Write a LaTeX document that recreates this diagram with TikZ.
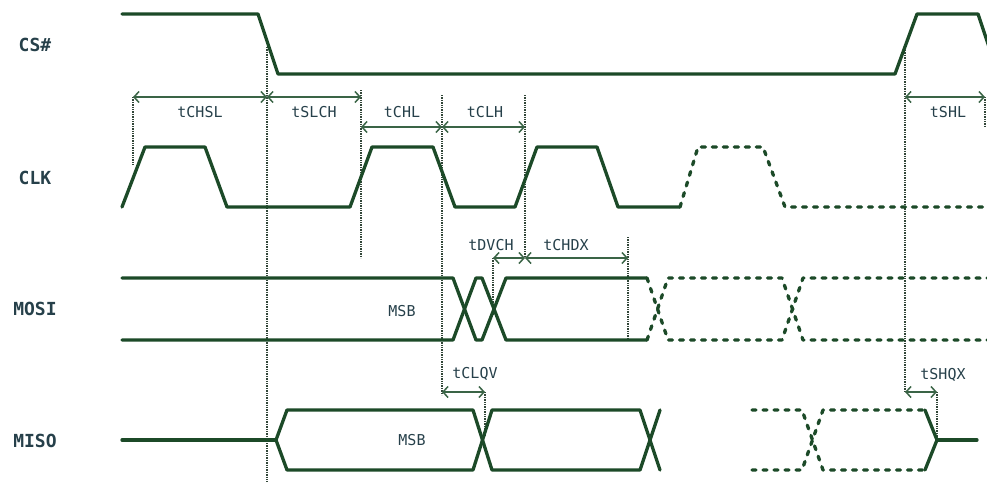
\documentclass[tikz,border=0pt]{standalone}
\usepackage{fontspec}
\setmonofont{DejaVu Sans Mono}
\usetikzlibrary{arrows.meta}
\definecolor{sigc}{RGB}{28,74,40}
\definecolor{dimc}{RGB}{58,100,70}
\definecolor{guidec}{RGB}{50,70,56}
\definecolor{txtc}{RGB}{38,64,74}
\begin{document}
\begin{tikzpicture}[x=1pt,y=-1pt,
 sig/.style={draw=sigc,line width=3.3pt,line join=round,line cap=round},
 dsig/.style={sig,dash pattern=on 4pt off 7pt},
 guide/.style={draw=guidec,line width=1.1pt,dash pattern=on 1.3pt off 1.1pt},
 dimline/.style={draw=dimc,line width=1.5pt,{Straight Barb[length=5pt,width=11pt,line width=1.5pt]}-{Straight Barb[length=5pt,width=11pt,line width=1.5pt]}},
 siglab/.style={font=\ttfamily\bfseries\fontsize{18}{18}\selectfont,text=txtc,inner sep=0pt},
 tlab/.style={font=\ttfamily\fontsize{15}{15}\selectfont,text=txtc,inner sep=0pt},
]
\useasboundingbox (0,0) rectangle (987,482);
\clip (0,0) rectangle (987,482);

% signal names
\node[siglab] (lcs) at (35,45) {CS\#};
\node[siglab] (lclk) at (35,178) {CLK};
\node[siglab] (lmosi) at (35,309) {MOSI};
\node[siglab] (lmiso) at (35,441) {MISO};

% guides (dotted)
\draw[guide] (133,97) -- (133,165);
\draw[guide] (267,47) -- (267,482);
\draw[guide] (361,90) -- (361,258);
\draw[guide] (442,95) -- (442,395);
\draw[guide] (525,95) -- (525,258);
\draw[guide] (493,258) -- (493,315);
\draw[guide] (628,237) -- (628,340);
\draw[guide] (905,50) -- (905,392);
\draw[guide] (985,97) -- (985,128);
\draw[guide] (485,392) -- (485,436);
\draw[guide] (937,392) -- (937,440);

% CS#
\draw[sig] (122,14) -- (258,14) -- (278,74) -- (895,74) -- (917,14) -- (978,14) -- (998,74);

% CLK
\draw[sig] (122,207) -- (145,147) -- (205,147) -- (227,207) -- (350,207) -- (372,147) -- (433,147) -- (455,207) -- (515,207) -- (537,147) -- (597,147) -- (618,207) -- (680,207);
\draw[dsig] (680,207) -- (698,147) -- (763,147) -- (785,207) -- (992,207);

% MOSI
\draw[sig] (122,278) -- (453,278) -- (476,340) -- (482,340) -- (506,278) -- (647,278);
\draw[sig] (122,340) -- (453,340) -- (476,278) -- (482,278) -- (506,340) -- (647,340);
\draw[dsig] (647,278) -- (668,340) -- (782,340) -- (803,278) -- (992,278);
\draw[dsig] (647,340) -- (668,278) -- (782,278) -- (803,340) -- (992,340);

% MISO
\draw[sig] (122,440) -- (276,440);
\draw[sig] (276,440) -- (287,410) -- (473,410) -- (492,470) -- (640,470) -- (660,410);
\draw[sig] (276,440) -- (287,470) -- (473,470) -- (492,410) -- (640,410) -- (660,470);
\draw[dsig] (752,410) -- (802,410) -- (823,470) -- (925,470);
\draw[dsig] (752,470) -- (802,470) -- (823,410) -- (925,410);
\draw[sig] (925,410) -- (937,440) -- (925,470);
\draw[sig] (937,440) -- (977,440);

% dimension coordinates
\coordinate (a1) at (133,97);
\coordinate (a2) at (267,97);
\coordinate (a3) at (361,97);
\coordinate (b1) at (361,127);
\coordinate (b2) at (442,127);
\coordinate (b3) at (525,127);
\coordinate (c1) at (493,258);
\coordinate (c2) at (525,258);
\coordinate (c3) at (628,258);
\coordinate (d1) at (442,392);
\coordinate (d2) at (485,392);
\coordinate (e1) at (905,97);
\coordinate (e2) at (985,97);
\coordinate (f1) at (905,392);
\coordinate (f2) at (937,392);

\draw[dimline] (a1) -- (a2);
\draw[dimline] (a2) -- (a3);
\draw[dimline] (b1) -- (b2);
\draw[dimline] (b2) -- (b3);
\draw[dimline] (c1) -- (c2);
\draw[dimline] (c2) -- (c3);
\draw[dimline] (d1) -- (d2);
\draw[dimline] (e1) -- (e2);
\draw[dimline] (f1) -- (f2);

% timing labels
\node[tlab] (tchsl) at (200,112) {tCHSL};
\node[tlab] (tslch) at (314,112) {tSLCH};
\node[tlab] (tchl) at (402,112) {tCHL};
\node[tlab] (tclh) at (485,112) {tCLH};
\node[tlab] (tshl) at (948,112) {tSHL};
\node[tlab] (tdvch) at (491,245) {tDVCH};
\node[tlab] (tchdx) at (566,245) {tCHDX};
\node[tlab] (tclqv) at (475,374) {tCLQV};
\node[tlab] (tshqx) at (943,375) {tSHQX};
\node[tlab] (msb1) at (402,311) {MSB};
\node[tlab] (msb2) at (412,440) {MSB};
\end{tikzpicture}
\end{document}
